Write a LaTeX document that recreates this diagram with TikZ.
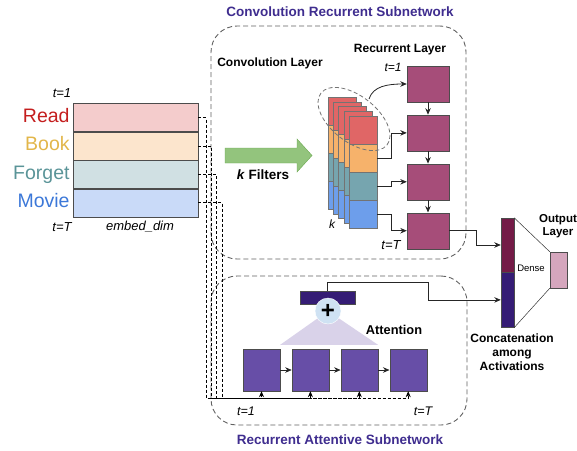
\documentclass[tikz,border=0pt]{standalone}
\usepackage{fontspec}
\setmainfont{Liberation Sans}
\usetikzlibrary{arrows, arrows.meta, positioning, calc}
\definecolor{readfill}{RGB}{244, 204, 204}
\definecolor{bookfill}{RGB}{252, 229, 205}
\definecolor{forgetfill}{RGB}{208, 224, 227}
\definecolor{moviefill}{RGB}{201, 218, 248}
\definecolor{readtext}{RGB}{196, 30, 30}
\definecolor{booktext}{RGB}{226, 182, 74}
\definecolor{forgettext}{RGB}{90, 148, 152}
\definecolor{movietext}{RGB}{60, 120, 216}
\definecolor{convred}{RGB}{224, 102, 102}
\definecolor{convorange}{RGB}{246, 178, 107}
\definecolor{convteal}{RGB}{118, 165, 175}
\definecolor{convblue}{RGB}{109, 158, 235}
\definecolor{recmaroon}{RGB}{166, 77, 121}
\definecolor{attpurple}{RGB}{103, 78, 167}
\definecolor{barpurple}{RGB}{53, 28, 117}
\definecolor{catmaroon}{RGB}{116, 27, 71}
\definecolor{outpink}{RGB}{213, 166, 189}
\definecolor{plusblue}{RGB}{207, 226, 243}
\definecolor{attlilac}{RGB}{217, 210, 233}
\definecolor{filtergreen}{RGB}{147, 196, 125}
\definecolor{filterborder}{RGB}{106, 168, 79}
\definecolor{titlepurple}{RGB}{63, 45, 143}
\tikzstyle{subnet} = [rectangle, draw=black!62, line width=0.9pt, dash pattern=on 5pt off 3pt, rounded corners=26pt, inner sep=0pt]
\tikzstyle{embedrow} = [rectangle, minimum width=125pt, minimum height=28pt, inner sep=0pt, draw=black!70]
\tikzstyle{word} = [inner sep=0pt, anchor=east, text height=14pt, text depth=4pt, font=\fontsize{19.5}{22}\selectfont]
\tikzstyle{convseg} = [rectangle, minimum size=28pt, inner sep=0pt, draw=black!55, line width=0.4pt]
\tikzstyle{recbox} = [rectangle, minimum width=42pt, minimum height=36pt, draw=black!70, fill=recmaroon]
\tikzstyle{attbox} = [rectangle, minimum width=37pt, minimum height=42pt, draw=black!70, fill=attpurple]
\tikzstyle{catbox} = [rectangle, minimum width=13pt, inner sep=0pt, draw=black!70]
\tikzstyle{arrow} = [line width=0.8pt, draw=black!85, ->, >={Stealth[length=6.5pt, width=5.5pt]}]
\tikzstyle{embedline} = [line width=0.7pt, dash pattern=on 3pt off 2pt, ->, >={Stealth[length=6pt, width=5pt]}]
\tikzstyle{heading} = [font=\bfseries\fontsize{13.5}{16}\selectfont, text=titlepurple]
\tikzstyle{caption} = [font=\bfseries\fontsize{12}{14}\selectfont, align=center]
\tikzstyle{steplabel} = [font=\itshape\fontsize{13}{15}\selectfont]

\begin{document}
\begin{tikzpicture}[x=1pt, y=-1pt]
\useasboundingbox (0,0) rectangle (577,450);

% Subnetwork frames
\node (convnet) [subnet, minimum width=255pt, minimum height=233pt] at (338.5,142.5) {};
\node (attnet) [subnet, minimum width=256pt, minimum height=149pt] at (339,350.5) {};
\node [heading] at (340,12) {Convolution Recurrent Subnetwork};
\node [heading] at (340,440) {Recurrent Attentive Subnetwork};

% Word embeddings
\node (read) [embedrow, fill=readfill] at (135.5,117.5) {};
\node (book) [embedrow, fill=bookfill, below=0pt of read] {};
\node (forget) [embedrow, fill=forgetfill, below=0pt of book] {};
\node (movie) [embedrow, fill=moviefill, below=0pt of forget] {};
\node [word, text=readtext, left=3pt of read] {Read};
\node [word, text=booktext, left=3pt of book] {Book};
\node [word, text=forgettext, left=3pt of forget] {Forget};
\node [word, text=movietext, left=3pt of movie] {Movie};
\node [steplabel] at (62,93) {t=1};
\node [steplabel] at (62,227) {t=T};
\node [steplabel] at (140,227) {embed\_dim};

% Filters
\filldraw [fill=filtergreen, draw=filterborder] (225,148) -- (297,148) -- (297,139) -- (312,155.5) -- (297,172) -- (297,163) -- (225,163) -- cycle;
\node [font=\bfseries\fontsize{13.5}{16}\selectfont] at (263,175) {\textit{k} Filters};
\node [caption] at (270,63) {Convolution Layer};

% Convolution stack
\foreach \i in {0,...,4}
  \foreach \c [count=\j] in {convred,convorange,convteal,convblue}
    \node (seg\i\j) [convseg, fill=\c] at ({342+5.25*\i},{111+4.75*\i+28*(\j-1)}) {};
\node [steplabel, font=\itshape\fontsize{12}{14}\selectfont] at (332,224) {k};
\draw [black!55, line width=0.8pt, dash pattern=on 4pt off 2.5pt, rotate around={-38:(354,119)}] (354,119) ellipse [x radius=42pt, y radius=23pt];
\coordinate (ellipsetop) at (369,99);

% Recurrent layer
\node (rec1) [recbox] at (428,84) {};
\node (rec2) [recbox, below=12.5pt of rec1] {};
\node (rec3) [recbox, below=12.5pt of rec2] {};
\node (rec4) [recbox, below=12.5pt of rec3] {};
\node [caption] at (400,50) {Recurrent Layer};
\node [steplabel, font=\itshape\fontsize{12}{14}\selectfont] at (393,67) {t=1};
\node [steplabel] at (391,245) {t=T};

\draw [arrow] (rec1) -- (rec2);
\draw [arrow] (rec2) -- (rec3);
\draw [arrow] (rec3) -- (rec4);
\draw [arrow] (ellipsetop) .. controls (373,86) and (388,84) .. (rec1.west);
\draw [arrow] (seg42.east) -- ++(14,0) |- (rec2.west);
\draw [arrow] (seg43.east) -- ++(14,0) |- (rec3.west);
\draw [arrow] (seg44.east) -- ++(14,0) |- (rec4.west);

% Attention layer
\node (att1) [attbox] at (261.5,370) {};
\node (att2) [attbox, right=11.5pt of att1] {};
\node (att3) [attbox, right=11.5pt of att2] {};
\node (att4) [attbox, right=11.5pt of att3] {};
\draw [arrow, line width=0.6pt] (att1) -- (att2);
\draw [arrow, line width=0.6pt] (att2) -- (att3);
\draw [arrow, line width=0.6pt] (att3) -- (att4);
\node (attbar) [rectangle, draw=black!70, fill=barpurple, minimum width=55pt, minimum height=13pt, inner sep=0pt] at (327.5,297.5) {};
\coordinate (attapex) at (328,311);
\fill [attlilac] (attapex) -- ([yshift=4pt]att1.north east) -- ([yshift=4pt]att3.north east) -- cycle;
\node (plus) [circle, draw=white, fill=plusblue, minimum size=26pt, inner sep=0pt, font=\bfseries\fontsize{24}{24}\selectfont] at (attapex) {+};
\node [caption, font=\bfseries\fontsize{12.8}{15}\selectfont] at (394,330) {Attention};
\node [steplabel, font=\itshape\fontsize{12.5}{14}\selectfont] at (246,411) {t=1};
\node [steplabel, font=\itshape\fontsize{12.5}{14}\selectfont] at (423,411) {t=T};

% Embeddings into attention layer
\foreach \w/\d/\a in {read/8/att1, book/13/att2, forget/18/att3, movie/24/att4}
  \draw [embedline] (\w.east) -- ++(\d,0) |- ([yshift=-7pt]\a.south) -- (\a.south);

% Concatenation and output
\node (cattop) [catbox, fill=catmaroon, minimum height=54pt] at (507.5,245) {};
\node (catbot) [catbox, fill=barpurple, minimum height=55pt, below=0pt of cattop] {};
\node (outbox) [rectangle, draw=black!70, fill=outpink, minimum width=17pt, minimum height=36pt, inner sep=0pt] at (558.5,270) {};
\coordinate (attbend) at (428,282);
\draw [arrow] (rec4.east) -- ++(27,0) |- (cattop.west);
\draw [arrow] (attbar.north) |- (attbend) |- (catbot.west);
\draw [black!80, line width=0.5pt] (cattop.north east) -- (outbox.north west);
\draw [black!80, line width=0.5pt] (catbot.south east) -- (outbox.south west);
\node [font=\fontsize{9.5}{11}\selectfont] at (531,268) {Dense};
\node [caption, font=\bfseries\fontsize{11.5}{13}\selectfont] at (558,226) {Output\\Layer};
\node [caption] at (512,352) {Concatenation\\among\\Activations};

\end{tikzpicture}
\end{document}
